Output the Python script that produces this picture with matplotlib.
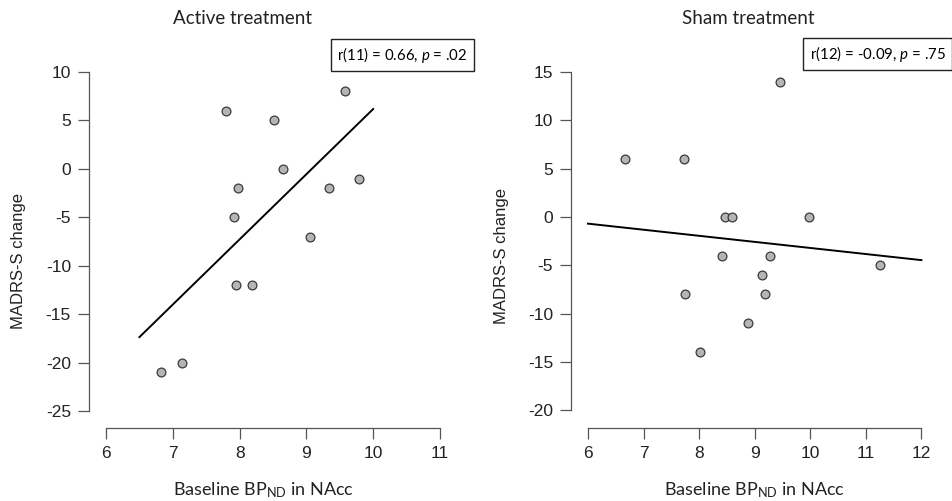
import numpy as np
import matplotlib
matplotlib.use("Agg")
import matplotlib.pyplot as plt
from matplotlib.offsetbox import AnchoredText

plt.rcParams['font.family'] = ['Liberation Sans', 'DejaVu Sans']
plt.rcParams['axes.unicode_minus'] = False
plt.rcParams['mathtext.fontset'] = 'custom'
plt.rcParams['mathtext.rm'] = 'Lato'
plt.rcParams['mathtext.it'] = 'Lato:italic'

# Active treatment
active_bp = [7.80, 8.51, 9.58, 8.65, 7.98, 9.34, 9.79, 7.92, 9.05, 7.94, 8.18, 6.82, 7.13]
active_madrs = [6, 5, 8, 0, -2, -2, -1, -5, -7, -12, -12, -21, -20]
active_fit_range = [6.5, 10.0]
active_stat = "r(11) = 0.66, $\\mathit{p}$ = .02"

# Sham treatment
sham_bp = [6.67, 7.72, 9.46, 8.47, 8.59, 9.98, 8.41, 9.28, 9.13, 9.18, 7.75, 8.88, 8.01, 11.25]
sham_madrs = [6, 6, 14, 0, 0, 0, -4, -4, -6, -8, -8, -11, -14, -5]
sham_fit_range = [6.0, 12.0]
sham_stat = "r(12) = -0.09, $\\mathit{p}$ = .75"

fig = plt.figure(figsize=(9.52, 5.01), dpi=100)

panels = [
    dict(rect=[0.0935, 0.1457, 0.4044, 0.777], x=active_bp, y=active_madrs,
         fit=active_fit_range, stat=active_stat, title="Active treatment",
         xlim=(5.745, 11.51), ylim=(-26.75, 13.44), xticks=range(6, 12),
         yticks=range(-25, 11, 5), title_x=243, xlabel_x=0.4535, ylabel_y=0.429),
    dict(rect=[0.6001, 0.1457, 0.3999, 0.779], x=sham_bp, y=sham_madrs,
         fit=sham_fit_range, stat=sham_stat, title="Sham treatment",
         xlim=(5.70, 12.55), ylim=(-21.83, 18.55), xticks=range(6, 13),
         yticks=range(-20, 16, 5), title_x=748, xlabel_x=0.4825, ylabel_y=0.44),
]

for p in panels:
    ax = fig.add_axes(p['rect'])
    ax.scatter(p['x'], p['y'], s=40, facecolor='#b5b5b5', edgecolor='#3a3a3a',
               linewidth=0.9, zorder=3)
    slope, icpt = np.polyfit(p['x'], p['y'], 1)
    fx = np.array(p['fit'])
    ax.plot(fx, slope * fx + icpt, color='black', linewidth=1.4)

    ax.set_xlim(*p['xlim'])
    ax.set_ylim(*p['ylim'])
    ax.set_xticks(list(p['xticks']))
    ax.set_yticks(list(p['yticks']))
    for side in ['top', 'right']:
        ax.spines[side].set_visible(False)
    ax.spines['left'].set_bounds(p['yticks'][0], p['yticks'][-1])
    ax.spines['bottom'].set_bounds(p['xticks'][0], p['xticks'][-1])
    for side in ['left', 'bottom']:
        ax.spines[side].set_color('#555555')
        ax.spines[side].set_linewidth(0.9)
    ax.tick_params(length=8, width=0.9, color='#555555', labelsize=12.5,
                   labelcolor='#222222', pad=5)

    ax.set_xlabel("Baseline BP$_{\\mathrm{ND}}$ in NAcc", family='Lato',
                  fontsize=13, color='#222222', va='center')
    ax.xaxis.set_label_coords(p['xlabel_x'], -0.159)
    ax.set_ylabel("MADRS-S change", fontsize=12, color='#222222', va='center')
    ax.yaxis.set_label_coords(-0.184, p['ylabel_y'])

    fig.text(p['title_x'] / 952, 1 - 18 / 501, p['title'], family='Lato',
             fontsize=13.5, ha='center', va='center', color='#222222')

    at = AnchoredText(p['stat'], loc='upper right', borderpad=0, pad=0.42,
                      frameon=True, prop=dict(size=10.8, family='Lato'))
    at.patch.set_edgecolor('#222222')
    at.patch.set_linewidth(1.0)
    ax.add_artist(at)

fig.savefig("out.png", dpi=100)
